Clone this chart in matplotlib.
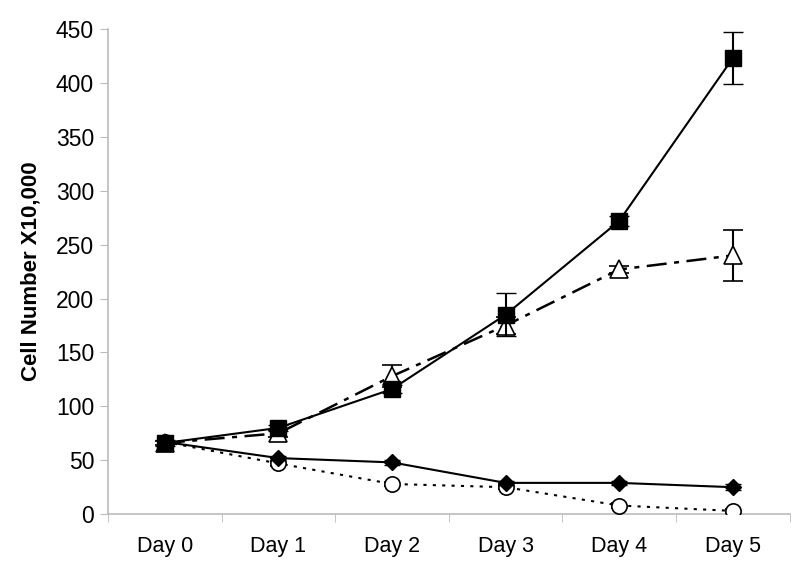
import numpy as np
import matplotlib
matplotlib.use("Agg")
import matplotlib.pyplot as plt

days = ["Day 0", "Day 1", "Day 2", "Day 3", "Day 4", "Day 5"]

square_vals = [66, 80, 116, 185, 272, 423]
square_err = [3, 3, 4, 20, 5, 24]
triangle_vals = [66, 75, 128, 175, 227, 240]
triangle_err = [2, 3, 10, 8, 3, 24]
diamond_vals = [67, 52, 48, 29, 29, 25]
diamond_err = [2, 2, 2, 2, 2, 3]
circle_vals = [67, 47, 28, 25, 8, 3]
circle_err = [2, 2, 2, 2, 2, 2]

plt.rcParams['font.family'] = ['Liberation Sans', 'DejaVu Sans']

fig = plt.figure(figsize=(8, 5.7), dpi=100)
ax = fig.add_axes([0.135, 0.098, 0.852, 0.851])

x = np.arange(len(days))

ax.errorbar(x, circle_vals, yerr=circle_err, color='black', ls=(0, (1.5, 3)), lw=1.5,
            marker='o', ms=11, mfc='white', mec='black', mew=1.2, capsize=6, elinewidth=1.2, zorder=3)
ax.errorbar(x, diamond_vals, yerr=diamond_err, color='black', ls='-', lw=1.5,
            marker='D', ms=8.5, mfc='black', mec='black', capsize=6, elinewidth=1.2, zorder=4)
ax.errorbar(x, triangle_vals, yerr=triangle_err, color='black', ls=(0, (8, 3, 2, 3)), lw=1.8,
            marker='^', ms=13, mfc='white', mec='black', mew=1.2, capsize=7, elinewidth=1.5, zorder=5)
ax.errorbar(x, square_vals, yerr=square_err, color='black', ls='-', lw=1.5,
            marker='s', ms=11, mfc='black', mec='black', capsize=7, elinewidth=1.5, zorder=6)

ax.set_xlim(-0.5, 5.5)
ax.set_ylim(0, 450)
ax.set_yticks(range(0, 451, 50))
ax.set_xticks(x)
ax.set_xticklabels(days, fontsize=15.5)
ax.set_xticks(np.arange(-0.5, 5.6, 1), minor=True)
ax.tick_params(axis='x', which='major', length=0, pad=16)
ax.tick_params(axis='x', which='minor', length=6, color='#bbbbbb', direction='out')
ax.tick_params(axis='y', length=6, color='#bbbbbb', labelsize=16.5, pad=4)

for s in ['top', 'right']:
    ax.spines[s].set_visible(False)
for s in ['left', 'bottom']:
    ax.spines[s].set_color('#bbbbbb')
    ax.spines[s].set_linewidth(1.2)

ax.set_ylabel("Cell Number X10,000", fontsize=16, fontweight='bold', labelpad=10)

fig.savefig("out.png", dpi=100)
